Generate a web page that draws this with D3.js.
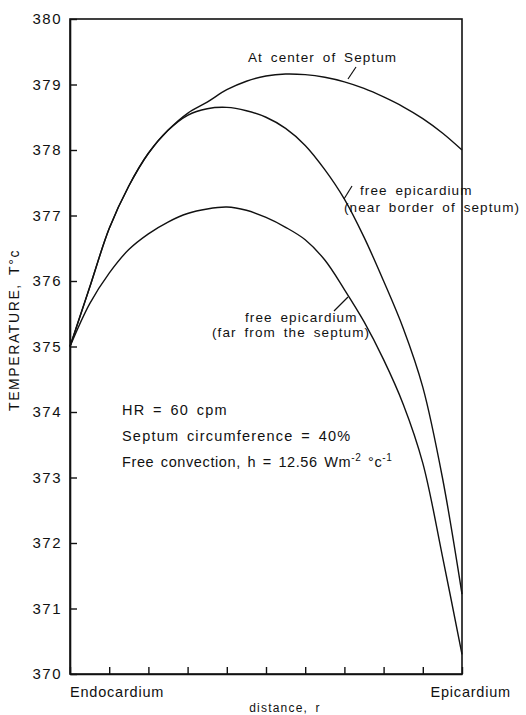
<!DOCTYPE html>
<html>
<head>
<meta charset="utf-8">
<script src="https://cdn.jsdelivr.net/npm/d3@7"></script>
<style>
  body { margin: 0; background: #fff; }
  svg text { font-family: "Liberation Sans", Arial, sans-serif; fill: #111; }
</style>
</head>
<body>
<svg id="chart" width="526" height="715"></svg>
<script>
// distance across the wall, 0 = endocardium, 1 = epicardium
const distance = [0, 0.05, 0.1, 0.15, 0.2, 0.25, 0.3, 0.35, 0.4, 0.45, 0.5,
                  0.55, 0.6, 0.65, 0.7, 0.75, 0.8, 0.85, 0.9, 0.95, 1]

const centerSeptum = [375.0, 375.9, 376.8, 377.45, 377.95, 378.3, 378.56, 378.73, 378.92, 379.05, 379.13,
                      379.16, 379.15, 379.11, 379.04, 378.94, 378.81, 378.66, 378.48, 378.26, 378.0]
const nearBorder   = [375.0, 375.9, 376.8, 377.45, 377.95, 378.3, 378.53, 378.63, 378.65, 378.6, 378.5,
                      378.33, 378.07, 377.7, 377.25, 376.67, 376.0, 375.28, 374.38, 373.0, 371.22]
const farSeptum    = [375.0, 375.65, 376.12, 376.48, 376.72, 376.9, 377.03, 377.1, 377.13, 377.08, 376.97,
                      376.82, 376.63, 376.32, 375.87, 375.38, 374.8, 374.12, 373.22, 371.8, 370.3]

const yTicks = [370, 371, 372, 373, 374, 375, 376, 377, 378, 379, 380]
const xTicks = [0, 0.1, 0.2, 0.3, 0.4, 0.5, 0.6, 0.7, 0.8, 0.9, 1]

const notes = ['HR = 60 cpm', 'Septum circumference = 40%']

const margin = {top: 19, right: 64, bottom: 41, left: 70}
const width = 526, height = 715

const svg = d3.select('#chart')

const x = d3.scaleLinear()
            .domain([0, 1])
            .range([margin.left, width - margin.right])

const y = d3.scaleLinear()
            .domain([370, 380])
            .range([height - margin.bottom, margin.top])

// frame
svg.append('rect')
    .attr('x', x(0)).attr('y', y(380))
    .attr('width', x(1) - x(0)).attr('height', y(370) - y(380))
    .attr('fill', 'none').attr('stroke', '#111').attr('stroke-width', 1.6)

// y axis, ticks inside
const yAxis = svg.append('g')
    .attr('transform', 'translate(' + x(0) + ',0)')
    .call(d3.axisLeft(y).tickValues(yTicks).tickFormat(d3.format('d'))
            .tickSizeInner(-7).tickSizeOuter(0).tickPadding(8))
yAxis.select('.domain').attr('stroke', '#111').attr('stroke-width', 1.6)
yAxis.selectAll('line').attr('stroke', '#111').attr('stroke-width', 1.4)
yAxis.selectAll('text').attr('font-size', 15).attr('fill', '#111')
    .attr('letter-spacing', 1.5)
    .style('font-family', '"Liberation Sans", Arial, sans-serif')

// x axis, ticks inside, no numbers
const xAxis = svg.append('g')
    .attr('transform', 'translate(0,' + y(370) + ')')
    .call(d3.axisBottom(x).tickValues(xTicks).tickFormat('')
            .tickSizeInner(-7).tickSizeOuter(0))
xAxis.select('.domain').attr('stroke', '#111').attr('stroke-width', 1.6)
xAxis.selectAll('line').attr('stroke', '#111').attr('stroke-width', 1.4)

// curves
const line = d3.line()
    .x((d, i) => x(distance[i]))
    .y(d => y(d))
    .curve(d3.curveCatmullRom.alpha(0.5))

svg.append('g')
    .attr('fill', 'none').attr('stroke', '#111').attr('stroke-width', 1.4)
    .selectAll('path')
    .data([centerSeptum, nearBorder, farSeptum])
    .join('path')
        .attr('d', line)

// curve labels
const lab = svg.append('g').attr('font-size', 13.5)
    .attr('letter-spacing', 1.1).attr('word-spacing', 3)
lab.append('text').attr('x', 248).attr('y', 62).text('At center of Septum')
lab.append('text').attr('x', 360).attr('y', 195).text('free epicardium')
lab.append('text').attr('x', 344).attr('y', 212).text('(near border of septum)')
lab.append('text').attr('x', 245).attr('y', 322).text('free epicardium')
lab.append('text').attr('x', 212).attr('y', 337).text('(far from the septum)')

// leader marks
const leaders = svg.append('g').attr('stroke', '#111').attr('stroke-width', 1.2)
leaders.append('line').attr('x1', 356).attr('y1', 67).attr('x2', 348).attr('y2', 79)
leaders.append('line').attr('x1', 352).attr('y1', 186).attr('x2', 344).attr('y2', 199)
leaders.append('line').attr('x1', 334).attr('y1', 311).attr('x2', 348).attr('y2', 297)

// parameter notes
const nt = svg.append('g').attr('font-size', 14.5)
    .attr('letter-spacing', 1.2).attr('word-spacing', 2.5)
notes.forEach((s, i) => {
    nt.append('text').attr('x', 122).attr('y', 415 + i * 26).text(s)
})
const conv = nt.append('text').attr('x', 122).attr('y', 467)
    .attr('letter-spacing', 0.6).attr('word-spacing', 2)
conv.append('tspan').text('Free convection, h = 12.56  Wm')
conv.append('tspan').attr('dy', -6).attr('font-size', 10).text('-2')
conv.append('tspan').attr('dy', 6).text(' \u00b0c')
conv.append('tspan').attr('dy', -6).attr('font-size', 10).text('-1')

// axis titles
svg.append('text')
    .attr('x', x(0)).attr('y', 697)
    .attr('font-size', 14.5).attr('letter-spacing', 0.8).text('Endocardium')
svg.append('text')
    .attr('x', 511).attr('y', 697).attr('text-anchor', 'end')
    .attr('font-size', 14.5).attr('letter-spacing', 0.8).text('Epicardium')
svg.append('text')
    .attr('x', 285).attr('y', 712).attr('text-anchor', 'middle')
    .attr('font-size', 12).attr('letter-spacing', 1.2).attr('word-spacing', 3).text('distance, r')
svg.append('text')
    .attr('transform', 'translate(19,330) rotate(-90)')
    .attr('text-anchor', 'middle')
    .attr('font-size', 14).attr('letter-spacing', 1.6).attr('word-spacing', 3)
    .text('TEMPERATURE, T\u00b0c')
</script>
</body>
</html>
